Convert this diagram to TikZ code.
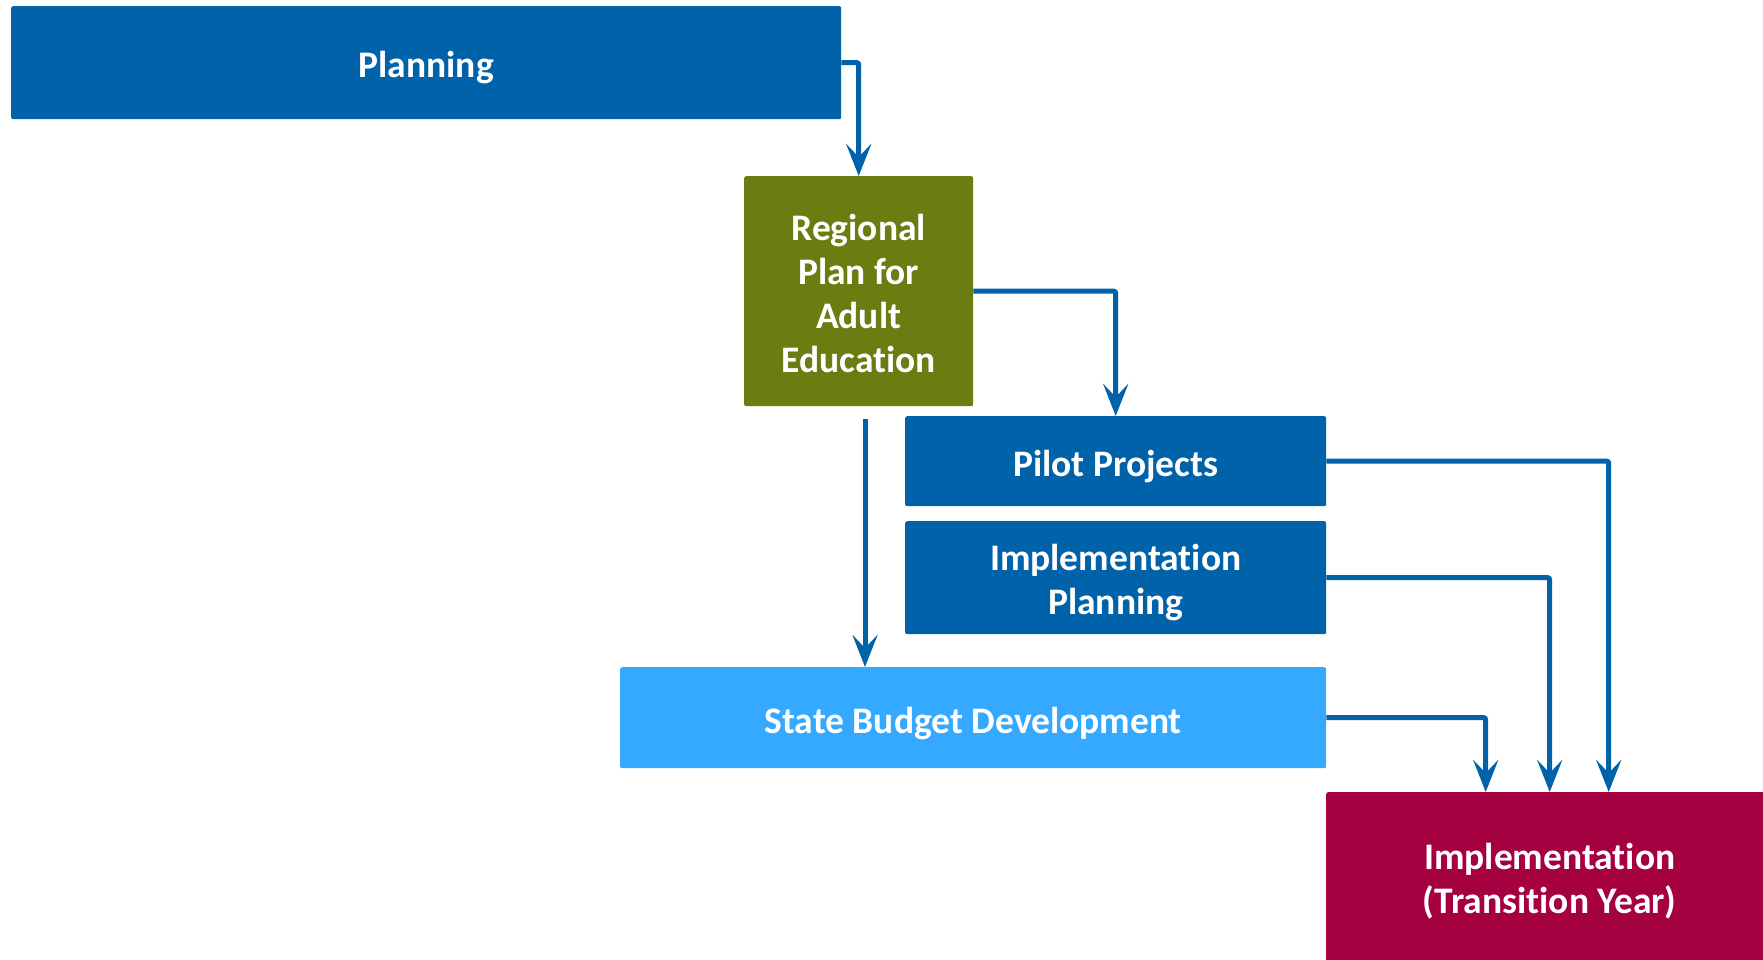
\documentclass[tikz,border=0pt]{standalone}
\usepackage{fontspec}
\setmainfont{Carlito}[Ligatures=NoCommon]
\usetikzlibrary{arrows.meta}
\definecolor{dblue}{RGB}{0,99,170}
\definecolor{olive}{RGB}{107,125,17}
\definecolor{lblue}{RGB}{53,169,255}
\definecolor{crimson}{RGB}{165,0,63}
\tikzset{
  box/.style={rectangle, rounded corners=2pt, anchor=north west, inner sep=0pt},
  txt/.style={text=white, font=\fontsize{37.5}{44}\selectfont\bfseries, align=center, inner sep=0pt},
  conn/.style={draw=dblue, line width=5pt, rounded corners=2pt,
    -{Stealth[length=32pt, width=25pt, inset=13pt]}}
}
\begin{document}
\begin{tikzpicture}[x=1pt,y=-1pt]
\clip (0,0) rectangle (1763,959);
\fill[white] (0,0) rectangle (1763,959);
\node[box, fill=dblue, minimum width=830pt, minimum height=113pt,
  label={[txt, yshift=-4.5pt]center:Planning}] (plan) at (11,6) {};
\node[box, fill=olive, minimum width=229pt, minimum height=230pt,
  label={[txt, yshift=-2pt]center:{Regional\\Plan for\\Adult\\Education}}] (reg) at (744,176) {};
\node[box, fill=dblue, minimum width=421pt, minimum height=90pt,
  label={[txt, yshift=-5.5pt]center:Pilot Projects}] (pilot) at (905,416) {};
\node[box, fill=dblue, minimum width=421pt, minimum height=113pt,
  label={[txt, yshift=-5pt]center:{Implementation\\Planning}}] (iplan) at (905,521) {};
\node[box, fill=lblue, minimum width=706pt, minimum height=101pt,
  label={[txt, yshift=-5.5pt]center:State Budget Development}] (sbd) at (620,667) {};
\node[box, fill=crimson, minimum width=447pt, minimum height=177pt,
  label={[txt, yshift=-0.5pt]center:{Implementation\\(Transition Year)}}] (impl) at (1326,792) {};
\coordinate (vs) at (865,419);
\draw[conn] (plan.east) -| (reg.north);
\draw[conn] (reg.east) -| (pilot.north);
\draw[conn] (vs) -- (vs |- sbd.north);
\draw[conn] (pilot.east) -| ([xshift=59pt]impl.north);
\draw[conn] (iplan.east) -| (impl.north);
\draw[conn] (sbd.east) -| ([xshift=-64pt]impl.north);
\end{tikzpicture}
\end{document}
